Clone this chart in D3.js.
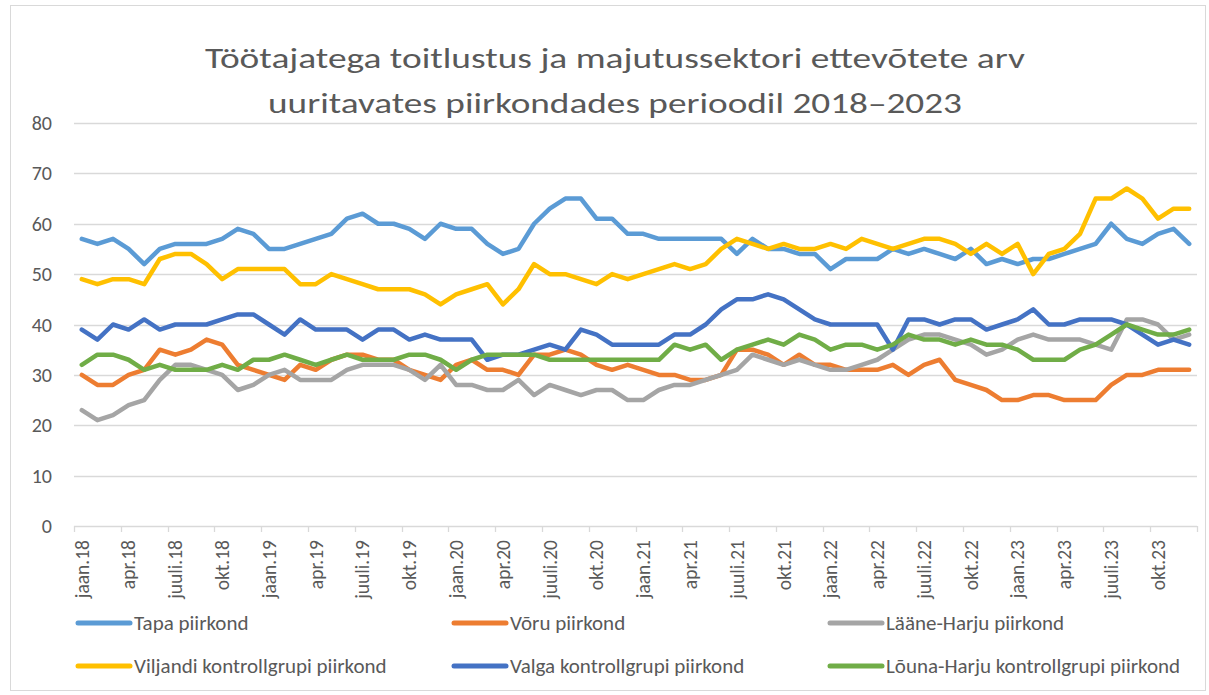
<!DOCTYPE html>
<html>
<head>
<meta charset="utf-8">
<script src="https://cdn.jsdelivr.net/npm/d3@7"></script>
<style>
  html, body { margin: 0; padding: 0; background: #fff; }
  svg text { font-family: Carlito, Calibri, Lato, "Liberation Sans", sans-serif; fill: #595959; }
</style>
</head>
<body>
<svg id="chart" width="1209" height="695"></svg>
<script>
const titleLines = ["Töötajatega toitlustus ja majutussektori ettevõtete arv", "uuritavates piirkondades perioodil 2018–2023"];
const monthNames = ["jaan","veebr","märts","apr","mai","juuni","juuli","aug","sept","okt","nov","dets"];
const years = ["18","19","20","21","22","23"];
const categories = years.flatMap(yr => monthNames.map(m => m + "." + yr));
const yTicks = [0,10,20,30,40,50,60,70,80];

const seriesNames = ["Tapa piirkond","Võru piirkond","Lääne-Harju piirkond","Viljandi kontrollgrupi piirkond","Valga kontrollgrupi piirkond","Lõuna-Harju kontrollgrupi piirkond"];
const seriesColors = ["#5B9BD5","#ED7D31","#A5A5A5","#FFC000","#4472C4","#70AD47"];

const tapa = [57,56,57,55,52,55,56,56,56,57,59,58,55,55,56,57,58,61,
              62,60,60,59,57,60,59,59,56,54,55,60,63,65,65,61,61,58,
              58,57,57,57,57,57,54,57,55,55,54,54,51,53,53,53,55,54,
              55,54,53,55,52,53,52,53,53,54,55,56,60,57,56,58,59,56];
const voru = [30,28,28,30,31,35,34,35,37,36,32,31,30,29,32,31,33,34,
              34,33,33,31,30,29,32,33,31,31,30,34,34,35,34,32,31,32,
              31,30,30,29,29,30,35,35,34,32,34,32,32,31,31,31,32,30,
              32,33,29,28,27,25,25,26,26,25,25,25,28,30,30,31,31,31];
const laaneHarju = [23,21,22,24,25,29,32,32,31,30,27,28,30,31,29,29,29,31,
                    32,32,32,31,29,32,28,28,27,27,29,26,28,27,26,27,27,25,
                    25,27,28,28,29,30,31,34,33,32,33,32,31,31,32,33,35,37,
                    38,38,37,36,34,35,37,38,37,37,37,36,35,41,41,40,37,38];
const viljandi = [49,48,49,49,48,53,54,54,52,49,51,51,51,51,48,48,50,49,
                  48,47,47,47,46,44,46,47,48,44,47,52,50,50,49,48,50,49,
                  50,51,52,51,52,55,57,56,55,56,55,55,56,55,57,56,55,56,
                  57,57,56,54,56,54,56,50,54,55,58,65,65,67,65,61,63,63];
const valga = [39,37,40,39,41,39,40,40,40,41,42,42,40,38,41,39,39,39,
               37,39,39,37,38,37,37,37,33,34,34,35,36,35,39,38,36,36,
               36,36,38,38,40,43,45,45,46,45,43,41,40,40,40,40,35,41,
               41,40,41,41,39,40,41,43,40,40,41,41,41,40,38,36,37,36];
const lounaHarju = [32,34,34,33,31,32,31,31,31,32,31,33,33,34,33,32,33,34,
                    33,33,33,34,34,33,31,33,34,34,34,34,33,33,33,33,33,33,
                    33,33,36,35,36,33,35,36,37,36,38,37,35,36,36,35,36,38,
                    37,37,36,37,36,36,35,33,33,33,35,36,38,40,39,38,38,39];

const seriesValues = [tapa, voru, laaneHarju, viljandi, valga, lounaHarju];
const series = seriesNames.map((n, k) => ({ name: n, color: seriesColors[k], values: seriesValues[k] }));

const svg = d3.select("#chart");
const W = 1209, H = 695;
const plot = { left: 74, right: 1197, top: 123, bottom: 526 };

svg.append("rect").attr("x", 0).attr("y", 0).attr("width", W).attr("height", H).attr("fill", "#fff");
svg.append("rect").attr("x", 10.5).attr("y", 5.5).attr("width", W - 14).attr("height", H - 10)
  .attr("fill", "none").attr("stroke", "#d9d9d9");

// title
const tWidths = [820, 694];
titleLines.forEach((t, k) => {
  svg.append("text").attr("x", 615).attr("y", 68 + k * 45)
    .attr("text-anchor", "middle").attr("font-size", 29).attr("font-weight", 300)
    .attr("textLength", tWidths[k]).attr("lengthAdjust", "spacingAndGlyphs")
    .text(t);
});

const x = d3.scaleBand().domain(categories).range([plot.left, plot.right]);
const y = d3.scaleLinear().domain([0, 80]).range([plot.bottom, plot.top]);

// gridlines
svg.append("g").selectAll("line").data(yTicks).join("line")
  .attr("x1", plot.left).attr("x2", plot.right)
  .attr("y1", d => Math.round(y(d)) + 0.5).attr("y2", d => Math.round(y(d)) + 0.5)
  .attr("stroke", "#d9d9d9").attr("stroke-width", 1.3);

// y labels
svg.append("g").selectAll("text").data(yTicks).join("text")
  .attr("x", 52).attr("y", d => y(d)).attr("dy", "0.35em")
  .attr("text-anchor", "end").attr("font-size", 20).text(d => d);

// x tick marks (every 3 categories, between categories)
const tickIdx = d3.range(0, categories.length + 1, 3);
svg.append("g").selectAll("line").data(tickIdx).join("line")
  .attr("x1", i => Math.round(plot.left + i * x.step()) + 0.5)
  .attr("x2", i => Math.round(plot.left + i * x.step()) + 0.5)
  .attr("y1", plot.bottom).attr("y2", plot.bottom + 6)
  .attr("stroke", "#d9d9d9").attr("stroke-width", 1.3);

// x labels
const labelled = categories.filter((c, i) => i % 3 === 0);
svg.append("g").selectAll("text").data(labelled).join("text")
  .attr("transform", c => `translate(${x(c) + x.bandwidth() / 2},540) rotate(-90)`)
  .attr("dy", "0.35em").attr("text-anchor", "end").attr("font-size", 19.5)
  .text(c => c);

// lines
const line = d3.line().x((v, i) => x(categories[i]) + x.bandwidth() / 2).y(v => y(v));
svg.append("g").selectAll("path").data(series).join("path")
  .attr("d", s => line(s.values))
  .attr("fill", "none").attr("stroke", s => s.color)
  .attr("stroke-width", 4.5).attr("stroke-linejoin", "round").attr("stroke-linecap", "round");

// legend
const colX = [76, 452, 828], rowY = [623, 666];
const lg = svg.append("g").selectAll("g").data(series).join("g")
  .attr("transform", (s, k) => `translate(${colX[k % 3]},${rowY[Math.floor(k / 3)]})`);
lg.append("line").attr("x1", 2).attr("x2", 54).attr("y1", 0).attr("y2", 0)
  .attr("stroke", s => s.color).attr("stroke-width", 5).attr("stroke-linecap", "round");
lg.append("text").attr("x", 58).attr("y", 0).attr("dy", "0.35em")
  .attr("font-size", 21).text(s => s.name);
</script>
</body>
</html>
